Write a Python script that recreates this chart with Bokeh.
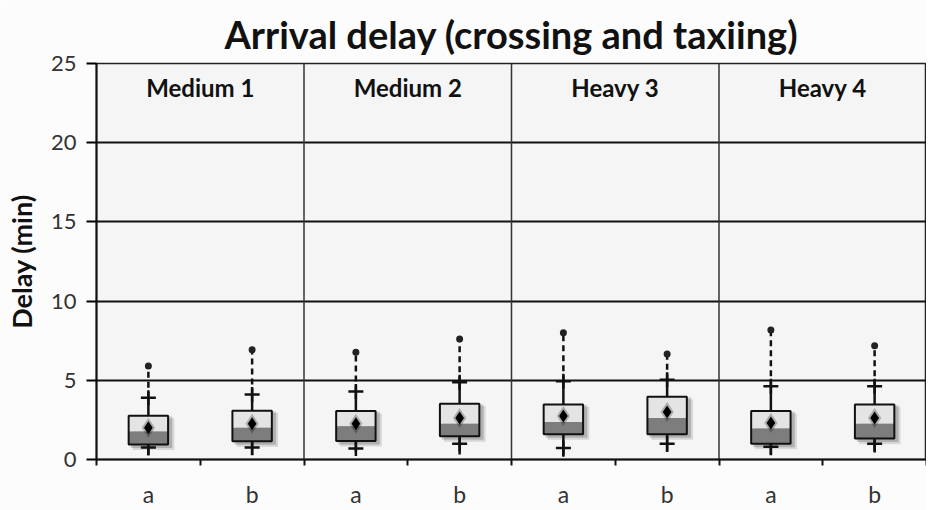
from bokeh.plotting import figure
from bokeh.models import Range1d, FixedTicker, ColumnDataSource
from bokeh.embed import file_html
from bokeh.resources import INLINE
from bokeh.core.properties import value
from bokeh.transform import dodge

title_text = "Arrival delay (crossing and taxiing)"
panels = ["Medium 1", "Medium 2", "Heavy 3", "Heavy 4"]
variants = ["a", "b"]
y_ticks = [0, 5, 10, 15, 20, 25]

# one value per box, panel by panel (a, b)
q_min  = [0.25, 0.27, 0.50, 0.31, 0.17, 0.48, 0.27, 0.44]
cap_lo = [0.75, 0.75, 0.70, 1.00, 0.73, 1.00, 0.80, 1.00]
q1     = [0.95, 1.15, 1.17, 1.47, 1.59, 1.59, 1.00, 1.32]
median = [1.76, 2.00, 2.10, 2.26, 2.37, 2.62, 1.95, 2.26]
mean   = [2.00, 2.26, 2.26, 2.62, 2.74, 3.00, 2.30, 2.62]
q3     = [2.76, 3.08, 3.06, 3.52, 3.47, 3.96, 3.06, 3.47]
cap_hi = [3.90, 4.10, 4.30, 4.88, 4.94, 5.04, 4.63, 4.63]
q_max  = [5.90, 6.93, 6.77, 7.60, 8.00, 6.66, 8.17, 7.18]

FONT = "Lato"
n_var = len(variants)
n = len(panels) * n_var
xs = [i + 0.5 for i in range(n)]
labels = [variants[i % n_var] for i in range(n)]

src = ColumnDataSource(dict(x=xs, q_min=q_min, cap_lo=cap_lo, q1=q1, median=median,
                            mean=mean, q3=q3, cap_hi=cap_hi, q_max=q_max))

p = figure(width=926, height=510, x_range=Range1d(0, n), y_range=Range1d(0, 25),
           output_backend="svg", toolbar_location=None,
           min_border_left=96, min_border_right=0, min_border_top=63, min_border_bottom=49)

p.background_fill_color = "#f5f5f5"
p.border_fill_color = "#fcfcfc"
p.outline_line_color = "#222222"
p.outline_line_width = 1.5

p.title.text = title_text
p.title.align = "center"
p.title.text_font = FONT
p.title.text_font_size = "38px"
p.title.text_font_style = "bold"
p.title.text_color = "#111111"
p.title.standoff = 14

# y axis
p.yaxis.ticker = FixedTicker(ticks=y_ticks)
p.yaxis.axis_line_width = 2
p.yaxis.axis_line_color = "#111111"
p.yaxis.major_tick_out = 10
p.yaxis.major_tick_in = 0
p.yaxis.major_tick_line_width = 2
p.yaxis.minor_tick_line_color = None
p.yaxis.major_label_standoff = 10
p.yaxis.major_label_text_font = FONT
p.yaxis.major_label_text_font_size = "22px"
p.yaxis.major_label_text_color = "#333333"
p.yaxis.axis_label = "Delay (min)"
p.yaxis.axis_label_standoff = 10
p.yaxis.axis_label_text_font = FONT
p.yaxis.axis_label_text_font_size = "27px"
p.yaxis.axis_label_text_font_style = "bold"
p.yaxis.axis_label_text_color = "#111111"

# x axis
p.xaxis.ticker = FixedTicker(ticks=xs, minor_ticks=list(range(n + 1)))
p.xaxis.major_label_overrides = {x: l for x, l in zip(xs, labels)}
p.xaxis.major_tick_line_color = None
p.xaxis.major_tick_out = 6
p.xaxis.minor_tick_out = 6
p.xaxis.minor_tick_in = 0
p.xaxis.minor_tick_line_width = 2
p.xaxis.minor_tick_line_color = "#111111"
p.xaxis.axis_line_width = 2
p.xaxis.axis_line_color = "#111111"
p.xaxis.major_label_text_font = FONT
p.xaxis.major_label_text_font_size = "23px"
p.xaxis.major_label_text_color = "#333333"
p.xaxis.major_label_standoff = 14

p.xgrid.grid_line_color = None
p.ygrid.ticker = FixedTicker(ticks=y_ticks[1:-1])
p.ygrid.grid_line_color = "#111111"
p.ygrid.grid_line_width = 2

# panel dividers
div_x = [k * n_var for k in range(1, len(panels))]
p.segment(x0=div_x, x1=div_x, y0=[0] * len(div_x), y1=[25] * len(div_x),
          line_color="#333333", line_width=1.5)

# panel labels
p.text(x=[k * n_var + n_var / 2 for k in range(len(panels))], y=[23.5] * len(panels),
       text=panels, text_align="center", text_baseline="middle",
       text_font=value(FONT), text_font_size="24px", text_font_style="bold",
       text_color="#111111")

hw = 0.19
# soft shadows behind boxes
sh_src = ColumnDataSource(dict(l=[x - hw + 0.04 for x in xs], r=[x + hw + 0.06 for x in xs],
                               t=[v - 0.15 for v in q3], b=[v - 0.35 for v in q1]))
p.quad(left="l", right="r", top="t", bottom="b", source=sh_src,
       fill_color="black", fill_alpha=0.12, line_color=None)
sh_src2 = ColumnDataSource(dict(l=[x - hw + 0.02 for x in xs], r=[x + hw + 0.04 for x in xs],
                                t=[v - 0.05 for v in q3], b=[v - 0.22 for v in q1]))
p.quad(left="l", right="r", top="t", bottom="b", source=sh_src2,
       fill_color="black", fill_alpha=0.18, line_color=None)

# whiskers
p.segment(x0="x", x1="x", y0="q3", y1="cap_hi", source=src, line_color="#111111", line_width=2.5)
p.segment(x0="x", x1="x", y0="cap_hi", y1="q_max", source=src, line_color="#111111",
          line_width=2.5, line_dash="6 4")
p.segment(x0="x", x1="x", y0="q1", y1="q_min", source=src, line_color="#111111", line_width=2.5)
p.scatter(x="x", y="cap_hi", source=src, marker="cross", size=15, line_color="#111111", line_width=2.5)
p.scatter(x="x", y="cap_lo", source=src, marker="cross", size=15, line_color="#111111", line_width=2.5)
p.scatter(x="x", y="q_max", source=src, marker="circle", size=7, fill_color="#222222", line_color=None)

# boxes
p.quad(left=dodge("x", -hw), right=dodge("x", hw), top="q3", bottom="median", source=src,
       fill_color="#e4e4e4", line_color=None)
p.quad(left=dodge("x", -hw), right=dodge("x", hw), top="median", bottom="q1", source=src,
       fill_color="#7d7d7d", line_color=None)
p.quad(left=dodge("x", -hw), right=dodge("x", hw), top="q3", bottom="q1", source=src,
       fill_color=None, line_color="#111111", line_width=2)

# means
p.scatter(x="x", y="mean", source=src, marker="diamond", size=20, fill_color="black",
          fill_alpha=0.25, line_color=None)
p.scatter(x="x", y="mean", source=src, marker="diamond", size=13, fill_color="black",
          line_color=None)

open("out.html", "w").write(file_html(p, INLINE))
